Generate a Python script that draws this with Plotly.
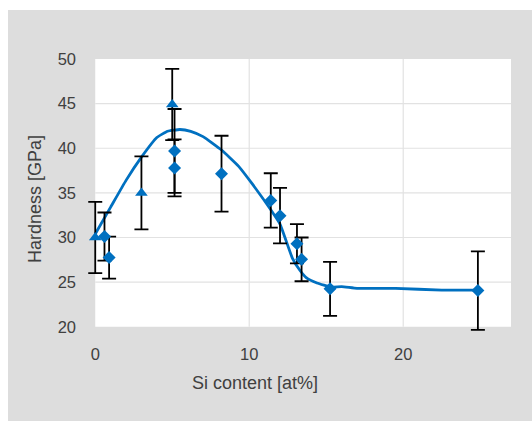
import plotly.graph_objects as go

# Triangle series (with error bars)
tri_x = [0, 3, 5]
tri_y = [30, 35, 44.9]
tri_err = [4, 4.1, 4]

# Diamond series (with error bars)
dia_x = [0.6, 0.9, 5.15, 5.15, 8.2, 11.4, 12.0, 13.1, 13.4, 15.25, 24.85]
dia_y = [30.1, 27.75, 39.7, 37.8, 37.15, 34.15, 32.45, 29.3, 27.55, 24.25, 24.05]
dia_err = [2.7, 2.35, 4.7, 3.2, 4.25, 3.05, 3.1, 2.2, 2.45, 3.03, 4.4]

# Fit curve
fit_x = [0, 1, 2, 3, 4, 4.7, 5.5, 6.2, 7, 8.2, 9.3, 10.2, 11.4, 12, 12.8, 13.3, 13.7, 14.4, 15.3, 16, 17, 19.5, 22.5, 25]
fit_y = [30.4, 33.4, 36.4, 39.0, 41.2, 41.9, 42.1, 41.9, 41.3, 39.8, 38.0, 36.0, 33.1, 31.5, 27.7, 26.3, 25.5, 24.9, 24.45, 24.5, 24.3, 24.3, 24.1, 24.1]

x_ticks = [0, 10, 20]
y_ticks = [20, 25, 30, 35, 40, 45, 50]
x_vis = [0, 27]      # visible (white) plot area
y_vis = [20, 50]
x_full = [-0.6, 27]  # axis range incl. room for overflowing error bars
y_full = [19.3, 50]

BLUE = "#0070C0"
GRAY = "#dddddd"
GRID = "#e2e2e2"
FONT = "Liberation Sans"
TXT = "#404040"

fig = go.Figure()
fig.add_trace(go.Scatter(x=fit_x, y=fit_y, mode="lines",
                         line=dict(color=BLUE, width=2.8, shape="spline", smoothing=0.4),
                         showlegend=False, hoverinfo="skip"))
fig.add_trace(go.Scatter(x=tri_x, y=tri_y, mode="markers",
                         marker=dict(symbol="triangle-up", size=11, color=BLUE),
                         error_y=dict(type="data", array=tri_err, color="black", thickness=1.8, width=7),
                         cliponaxis=False, showlegend=False))
fig.add_trace(go.Scatter(x=dia_x, y=dia_y, mode="markers",
                         marker=dict(symbol="diamond", size=10, color=BLUE),
                         error_y=dict(type="data", array=dia_err, color="black", thickness=1.8, width=7),
                         cliponaxis=False, showlegend=False))

L, R, T, B = 86, 21, 59, 88
W, H = 532, 421
pw, ph = W - L - R, H - T - B

def px2x(px):
    return (px - L) / pw

def py2y(py):
    return (H - B - py) / ph

shapes = [
    dict(type="rect", xref="paper", yref="paper", x0=px2x(-5), x1=px2x(W + 5),
         y0=py2y(10), y1=py2y(-5), fillcolor="white", line=dict(width=0), layer="below"),
    dict(type="rect", xref="paper", yref="paper", x0=px2x(-5), x1=px2x(8),
         y0=py2y(H + 5), y1=py2y(-5), fillcolor="white", line=dict(width=0), layer="below"),
    dict(type="rect", xref="x", yref="y", x0=x_vis[0], x1=x_vis[1], y0=y_vis[0], y1=y_vis[1],
         fillcolor="white", line=dict(width=0), layer="below"),
]
for xv in x_ticks:
    if x_vis[0] < xv < x_vis[1]:
        shapes.append(dict(type="line", xref="x", yref="y", x0=xv, x1=xv, y0=y_vis[0], y1=y_vis[1],
                           line=dict(color=GRID, width=1.2), layer="below"))
for yv in y_ticks:
    if y_vis[0] < yv < y_vis[1]:
        shapes.append(dict(type="line", xref="x", yref="y", x0=x_vis[0], x1=x_vis[1], y0=yv, y1=yv,
                           line=dict(color=GRID, width=1.2), layer="below"))

fig.update_layout(
    width=W, height=H,
    margin=dict(l=L, r=R, t=T, b=B),
    paper_bgcolor=GRAY, plot_bgcolor=GRAY,
    font=dict(family=FONT, size=16, color=TXT),
    xaxis=dict(range=x_full, tickvals=x_ticks, showgrid=False,
               zeroline=False, showline=False, ticks="", ticklabelstandoff=9,
               tickfont=dict(size=16.5, color=TXT)),
    yaxis=dict(range=y_full, tickvals=y_ticks, showgrid=False,
               zeroline=False, showline=False, ticks="", ticklabelstandoff=9,
               tickfont=dict(size=16.5, color=TXT)),
    shapes=shapes,
    annotations=[
        dict(text="Si content [at%]", x=px2x(255), y=py2y(383), xref="paper", yref="paper",
             showarrow=False, xanchor="center", yanchor="middle", font=dict(size=18, color=TXT)),
        dict(text="Hardness [GPa]", x=px2x(35), y=py2y(199), xref="paper", yref="paper",
             showarrow=False, xanchor="center", yanchor="middle", textangle=-90,
             font=dict(size=18, color=TXT)),
    ],
)

fig.write_html("out.html")
